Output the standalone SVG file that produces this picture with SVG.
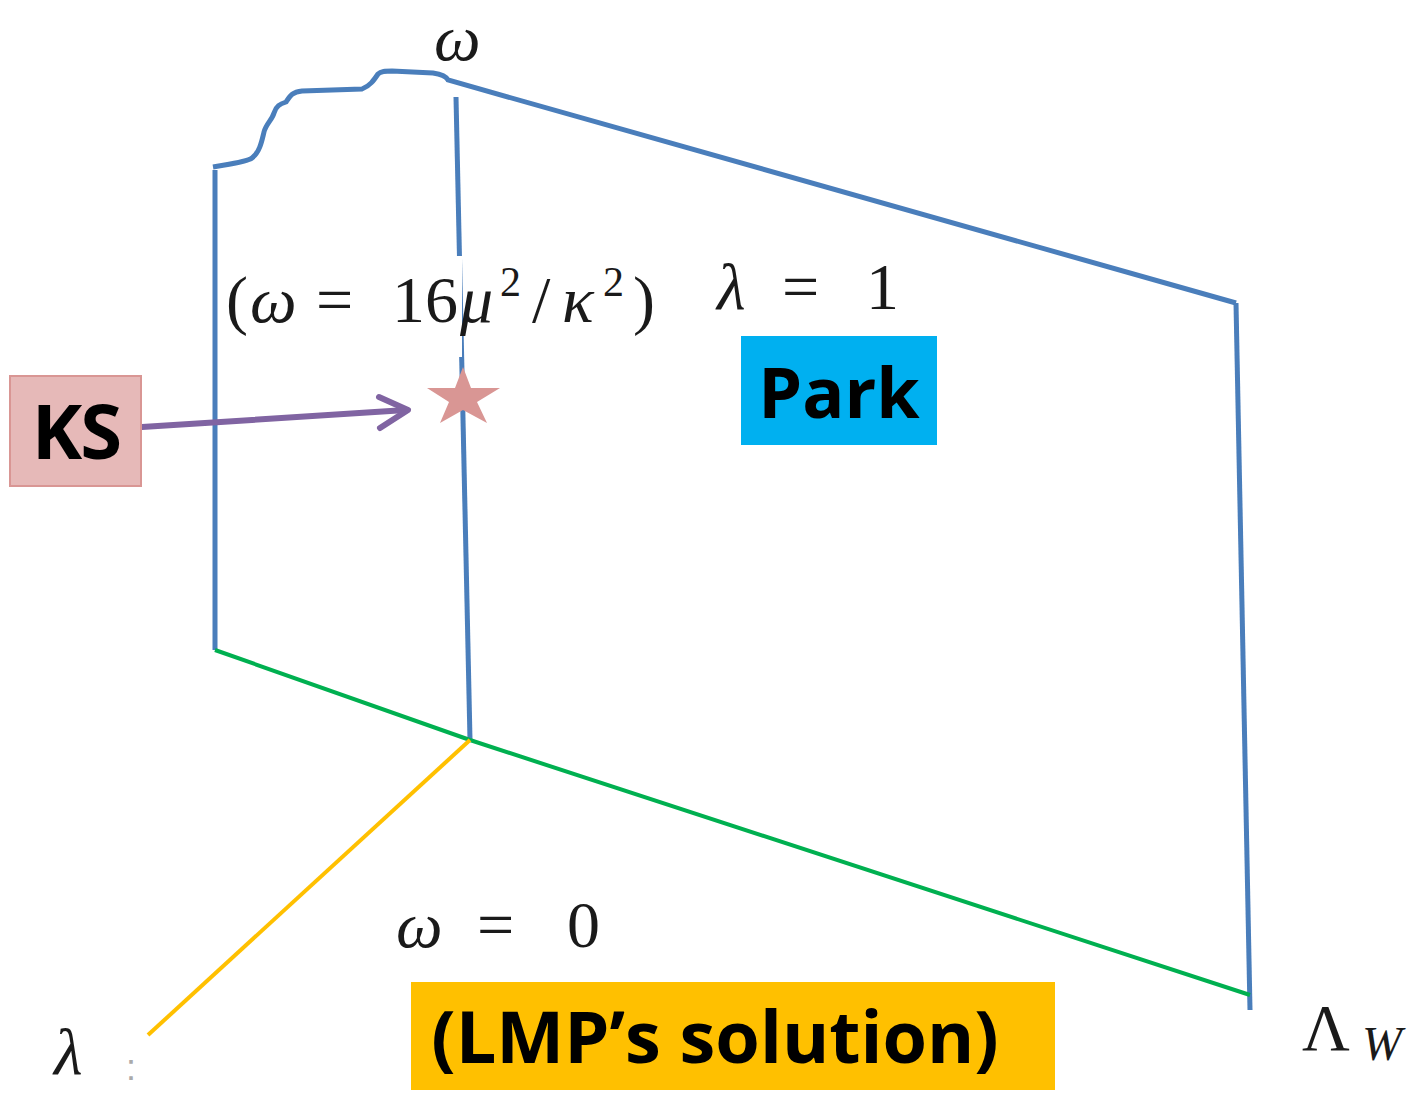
<svg xmlns="http://www.w3.org/2000/svg" width="1422" height="1098" viewBox="0 0 1422 1098">
<style>
.blue{stroke:#4a7ebb;stroke-width:5;fill:none;stroke-linecap:butt}
.math{font-family:"Liberation Serif",serif;fill:#1a1a1a;font-size:66px}
.it{font-style:italic}
.sup{font-size:42px}
.lbl{font-family:"Open Sans","Noto Sans",sans-serif;font-weight:bold;fill:#000}
</style>
<rect width="1422" height="1098" fill="#fff"/>
<g id="connectors">
<path class="blue" d="M213,167 C230,164 247,162 252,158 C260,152 262,140 264,132 C266,124 272,120 274,113 C276,106 280,104 286,102 C290,96 292,92 302,91 L362,89 C370,86 374,80 378,74 C381,71 385,71 392,71 L433,73 C440,74 446,76 448,80 L1236,303"/>
<line class="blue" x1="215" y1="170" x2="215" y2="650"/>
<line class="blue" x1="456" y1="97" x2="470" y2="740"/>
<line class="blue" x1="1236" y1="303" x2="1250" y2="1010"/>
<polyline points="215,650 470,740 1250,995" fill="none" stroke="#00b050" stroke-width="4"/>
<line x1="470" y1="740" x2="148" y2="1035" stroke="#ffc000" stroke-width="4"/>
<g stroke="#8064a2" stroke-width="6" fill="none" stroke-linecap="round" stroke-linejoin="round">
<line x1="142" y1="427" x2="406" y2="410"/>
<polyline points="379,397 408,410 380,428"/>
</g>
</g>
<g id="formula">
<rect x="218" y="256" width="244" height="101" fill="#fff"/>
<text class="math" y="322"><tspan x="226">(</tspan><tspan x="250" class="it">ω</tspan><tspan x="316">=</tspan><tspan x="392">16</tspan><tspan x="460" class="it">μ</tspan><tspan x="500" y="296" class="sup">2</tspan><tspan x="532" y="322">/</tspan><tspan x="562" class="it">κ</tspan><tspan x="603" y="296" class="sup">2</tspan><tspan x="633" y="322">)</tspan></text>
</g>
<g id="star">
<polygon points="463,367 471,388 500,388 477,402 487,423 463,410 440,423 449,402 427,388 455,388" fill="#d99694"/>
</g>
<g id="KS">
<rect x="10" y="376" width="131" height="110" fill="#e6b9b8" stroke="#d99694" stroke-width="2"/>
<text class="lbl" x="76" y="459" font-size="76" text-anchor="middle" letter-spacing="-2">KS</text>
</g>
<g id="Park">
<rect x="741" y="336" width="196" height="109" fill="#00b0f0"/>
<text class="lbl" x="839" y="418" font-size="70" text-anchor="middle">Park</text>
</g>
<g id="LMP">
<rect x="411" y="982" width="644" height="108" fill="#ffc000"/>
<text class="lbl" x="715" y="1063" font-size="72" text-anchor="middle">(LMP’s solution)</text>
</g>
<g id="labels">
<text class="math it" x="434" y="60" font-size="56">ω</text>
<text class="math" y="309"><tspan x="717" class="it">λ</tspan><tspan x="782">=</tspan><tspan x="866">1</tspan></text>
<text class="math" y="947"><tspan x="396" class="it">ω</tspan><tspan x="477">=</tspan><tspan x="567">0</tspan></text>
<text class="math it" x="54" y="1074" font-size="64">λ</text>
<text x="126" y="1080" font-family="Liberation Sans,sans-serif" font-size="36" fill="#aaa">:</text>
<text class="math" y="1050"><tspan x="1302">Λ</tspan><tspan x="1362" y="1060" class="it" font-size="48">W</tspan></text>
</g>
</svg>
